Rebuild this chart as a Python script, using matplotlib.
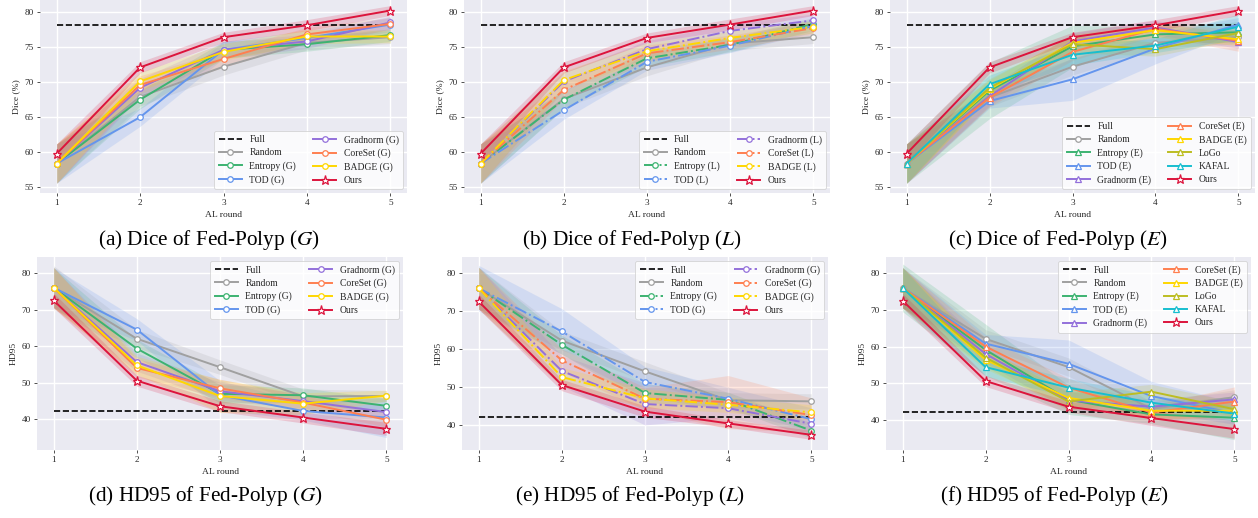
import matplotlib
matplotlib.use("Agg")
import matplotlib.pyplot as plt
import numpy as np

plt.rcParams['font.family'] = ['Liberation Serif', 'DejaVu Serif']
plt.rcParams['mathtext.fontset'] = 'stix'

rounds = [1, 2, 3, 4, 5]

# ---------------- data ----------------
methods_base = ["Random", "Entropy", "TOD", "Gradnorm", "CoreSet", "BADGE", "Ours"]
methods_ext = ["Random", "Entropy", "TOD", "Gradnorm", "CoreSet", "BADGE", "LoGo", "KAFAL", "Ours"]

full_dice = 78.2
full_hd95 = 42.1

# (a) Dice, G
dice_G = {
    "Random":   [58.4, 67.9, 72.2, 75.6, 76.4],
    "Entropy":  [58.4, 67.5, 74.6, 75.4, 76.7],
    "TOD":      [58.4, 65.0, 74.6, 76.3, 78.2],
    "Gradnorm": [58.4, 69.2, 74.6, 75.8, 78.5],
    "CoreSet":  [58.4, 69.6, 73.3, 76.8, 78.3],
    "BADGE":    [58.4, 70.1, 74.3, 76.5, 76.5],
    "Ours":     [59.8, 72.1, 76.4, 78.1, 80.2],
}
dice_G_std = {
    "TOD": [2.8, 1.3, 1.2, 1.0, 1.0],
    "Ours": [1.4, 0.8, 0.7, 0.8, 0.7],
}
# (b) Dice, L
dice_L = {
    "Random":   [58.4, 67.6, 72.1, 75.5, 76.4],
    "Entropy":  [58.4, 67.5, 73.4, 75.3, 78.3],
    "TOD":      [58.4, 66.0, 72.9, 75.2, 78.0],
    "Gradnorm": [58.4, 70.1, 74.7, 77.3, 78.8],
    "CoreSet":  [58.4, 68.9, 74.1, 75.7, 77.7],
    "BADGE":    [58.4, 70.3, 74.4, 76.3, 77.9],
    "Ours":     [59.8, 72.1, 76.3, 78.2, 80.2],
}
dice_L_std = {
    "Ours": [1.4, 0.8, 0.7, 0.8, 0.7],
}
# (c) Dice, E
dice_E = {
    "Random":   [58.4, 67.8, 72.2, 75.6, 76.4],
    "Entropy":  [58.4, 68.8, 75.1, 76.8, 77.1],
    "TOD":      [58.4, 67.3, 70.4, 74.8, 78.2],
    "Gradnorm": [58.4, 68.0, 75.8, 77.8, 75.7],
    "CoreSet":  [58.4, 67.8, 74.3, 77.6, 75.9],
    "BADGE":    [58.4, 69.0, 75.6, 77.4, 76.1],
    "LoGo":     [58.4, 69.2, 75.4, 74.7, 77.0],
    "KAFAL":    [58.4, 69.7, 73.9, 75.2, 77.9],
    "Ours":     [59.8, 72.1, 76.4, 78.1, 80.2],
}
dice_E_std = {
    "TOD": [2.8, 1.0, 3.0, 2.2, 1.0],
    "Entropy": [2.8, 4.0, 3.0, 1.0, 1.5],
    "KAFAL": [2.8, 1.3, 1.5, 1.0, 1.8],
    "CoreSet": [2.8, 1.3, 1.2, 1.0, 1.5],
    "Ours": [1.4, 0.8, 0.7, 0.8, 0.7],
}
dice_std_default = [2.8, 1.3, 1.2, 1.0, 0.9]

# (d) HD95, G
hd_G = {
    "Random":   [76.0, 62.0, 54.2, 46.2, 46.3],
    "Entropy":  [76.0, 59.3, 46.9, 46.5, 43.6],
    "TOD":      [76.0, 64.5, 46.5, 42.2, 40.4],
    "Gradnorm": [76.0, 55.6, 47.6, 44.9, 41.9],
    "CoreSet":  [76.0, 54.0, 48.4, 44.5, 39.8],
    "BADGE":    [76.0, 54.7, 46.3, 44.2, 46.4],
    "Ours":     [72.5, 50.5, 43.5, 40.4, 37.3],
}
hd_G_std = {
    "TOD": [5.5, 3.0, 4.0, 2.5, 5.5],
    "Random": [6.0, 2.5, 2.0, 2.0, 1.5],
    "BADGE": [5.5, 2.5, 4.5, 3.0, 1.5],
    "Ours": [2.0, 1.5, 1.5, 1.5, 1.8],
}
# (e) HD95, L
hd_L = {
    "Random":   [76.0, 62.2, 54.1, 46.5, 46.2],
    "Entropy":  [76.0, 61.1, 48.4, 46.6, 38.5],
    "TOD":      [76.0, 64.6, 51.3, 46.9, 41.5],
    "Gradnorm": [76.0, 54.2, 45.5, 44.4, 40.3],
    "CoreSet":  [76.0, 57.0, 46.9, 46.0, 42.6],
    "BADGE":    [76.0, 52.6, 47.0, 45.3, 43.3],
    "Ours":     [72.5, 50.5, 43.5, 40.4, 37.4],
}
hd_L_std = {
    "TOD": [6.0, 6.0, 4.0, 3.0, 3.0],
    "Gradnorm": [5.5, 4.0, 5.5, 2.5, 2.5],
    "CoreSet": [5.5, 3.0, 3.0, 7.0, 4.5],
    "Ours": [2.0, 1.5, 1.5, 1.0, 1.2],
}
# (f) HD95, E
hd_E = {
    "Random":   [76.0, 62.1, 54.4, 43.0, 46.2],
    "Entropy":  [76.0, 59.1, 45.5, 41.5, 40.6],
    "TOD":      [76.0, 60.8, 55.3, 46.5, 41.8],
    "Gradnorm": [76.0, 58.0, 45.3, 43.6, 45.6],
    "CoreSet":  [76.0, 60.0, 48.8, 42.0, 45.0],
    "BADGE":    [76.0, 56.4, 46.0, 42.5, 42.5],
    "LoGo":     [76.0, 57.0, 45.0, 47.7, 42.9],
    "KAFAL":    [76.0, 54.4, 48.8, 44.7, 41.7],
    "Ours":     [72.5, 50.6, 43.6, 40.5, 37.5],
}
hd_E_std = {
    "TOD": [5.5, 2.5, 6.5, 4.0, 3.0],
    "Entropy": [6.5, 7.0, 4.0, 2.5, 6.0],
    "CoreSet": [5.5, 2.5, 2.5, 2.0, 4.0],
    "Ours": [2.0, 1.5, 1.5, 2.0, 2.5],
}
hd_std_default = [5.5, 2.5, 2.5, 2.0, 2.0]

colors = {
    "Random": "#a0a0a0",
    "Entropy": "#3cb371",
    "TOD": "#6495ed",
    "Gradnorm": "#9370db",
    "CoreSet": "#ff7f50",
    "BADGE": "#ffd700",
    "LoGo": "#bcbd22",
    "KAFAL": "#17becf",
    "Ours": "#dc143c",
}

W, H = 1258, 518
fig = plt.figure(figsize=(W / 100, H / 100), dpi=100)
fig.patch.set_facecolor("white")

TICK_FS = 6.6
LABEL_FS = 6.8
LEG_FS = 6.9


def add_ax(l, r, t, b):
    return fig.add_axes([l / W, 1 - b / H, (r - l) / W, (b - t) / H])


def style_ax(ax):
    ax.set_facecolor("#eaeaf2")
    for s in ax.spines.values():
        s.set_visible(False)
    ax.grid(True, color="white", linewidth=1.0)
    ax.set_axisbelow(True)
    ax.tick_params(axis="both", labelsize=TICK_FS, length=2.5, width=0.6,
                   color="#333333", pad=2, labelcolor="#262626")
    ax.set_xticks(rounds)
    ax.set_xlim(0.8, 5.2)
    ax.set_xlabel("AL round", fontsize=LABEL_FS, labelpad=3, color="#262626")


def draw(ax, data, stds, default_std, methods, full, tag, ls, marker):
    style_ax(ax)
    ax.plot([rounds[0], rounds[-1]], [full, full], ls="--", color="black",
            lw=1.2, label="Full", zorder=3)
    for m in methods:
        y = np.array(data[m])
        s = np.array(stds.get(m, default_std))
        c = colors[m]
        ax.fill_between(rounds, y - s, y + s, color=c, alpha=0.18, lw=0, zorder=1)
        if m == "Ours":
            lab, mk, lstyle, z, ms = "Ours", "*", "-", 6, 6.5
        elif m == "Random":
            lab, mk, lstyle, z, ms = "Random", "o", "-", 4, 4
        elif m in ("LoGo", "KAFAL"):
            lab, mk, lstyle, z, ms = m, marker, ls, 4, 4
        else:
            lab, mk, lstyle, z, ms = "%s (%s)" % (m, tag), marker, ls, 4, 4
        ax.plot(rounds, y, ls=lstyle, color=c, lw=1.4, marker=mk,
                markersize=ms, markerfacecolor="white", markeredgecolor=c,
                markeredgewidth=0.9, label=lab, zorder=z)


def legend(ax, loc):
    leg = ax.legend(loc=loc, ncol=2, fontsize=LEG_FS, handlelength=2.4,
                    columnspacing=1.8, labelspacing=0.42, borderpad=0.45,
                    handletextpad=0.8, frameon=True, framealpha=0.8,
                    edgecolor="#cccccc", fancybox=True, borderaxespad=0.4)
    leg.get_frame().set_linewidth(0.6)
    for t in leg.get_texts():
        t.set_color("#262626")


# Row 1
axa = add_ax(40, 407, 0, 193)
draw(axa, dice_G, dice_G_std, dice_std_default, methods_base, full_dice, "G", "-", "o")
axb = add_ax(464, 830, 0, 193)
draw(axb, dice_L, dice_L_std, dice_std_default, methods_base, full_dice, "L", "-.", "o")
axc = add_ax(890, 1255, 0, 193)
draw(axc, dice_E, dice_E_std, dice_std_default, methods_ext, full_dice, "E", "-", "^")
for ax in (axa, axb, axc):
    ax.set_ylim(54.2, 81.7)
    ax.set_yticks([55, 60, 65, 70, 75, 80])
    ax.set_ylabel("Dice (%)", fontsize=LABEL_FS, labelpad=3, color="#262626")
    legend(ax, "lower right")

# Row 2
axd = add_ax(37, 403, 257, 450)
draw(axd, hd_G, hd_G_std, hd_std_default, methods_base, full_hd95, "G", "-", "o")
axe = add_ax(462, 828, 257, 450)
draw(axe, hd_L, hd_L_std, hd_std_default, methods_base, full_hd95, "G", "-.", "o")
axf = add_ax(886, 1251, 257, 450)
draw(axf, hd_E, hd_E_std, hd_std_default, methods_ext, full_hd95, "E", "-", "^")
axd.set_ylim(31.5, 84.4)
axe.set_ylim(33.4, 84.2)
axf.set_ylim(31.8, 84.4)
for ax in (axd, axe, axf):
    ax.set_yticks([40, 50, 60, 70, 80])
    ax.set_ylabel("HD95", fontsize=LABEL_FS, labelpad=3, color="#262626")
    legend(ax, "upper right")

captions = [
    (209, 240, r"(a) Dice of Fed-Polyp ($G$)"),
    (632, 240, r"(b) Dice of Fed-Polyp ($L$)"),
    (1058, 240, r"(c) Dice of Fed-Polyp ($E$)"),
    (205, 496, r"(d) HD95 of Fed-Polyp ($G$)"),
    (630, 496, r"(e) HD95 of Fed-Polyp ($L$)"),
    (1054, 496, r"(f) HD95 of Fed-Polyp ($E$)"),
]
for x, y, t in captions:
    fig.text(x / W, 1 - y / H, t, ha="center", va="center", fontsize=15.3,
             color="black")

fig.savefig("out.png", dpi=100, facecolor="white")
